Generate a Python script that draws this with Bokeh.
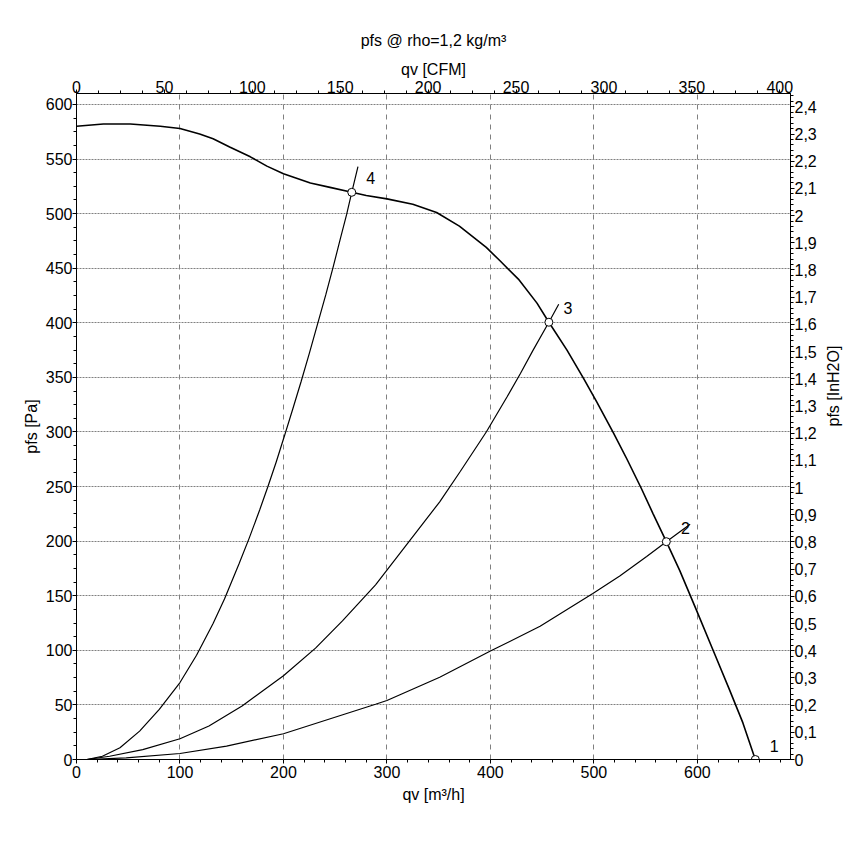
import math
from bokeh.plotting import figure
from bokeh.models import Range1d, LinearAxis, SingleIntervalTicker, CustomJSTickFormatter
from bokeh.core.properties import value
from bokeh.embed import file_html
from bokeh.resources import INLINE

FONT = "Liberation Sans"

# ---- data ----
fan_q = [0, 26, 52, 81, 100, 119, 132, 148, 168, 184, 200, 226, 245, 266, 280, 300, 325, 348,
         370, 396, 409, 427, 445, 456.5, 474, 490, 503, 519, 532, 546, 557, 570, 583, 599,
         615, 631, 644, 656]
fan_p = [580, 582, 582, 580, 578, 573, 568.5, 561, 552, 543.5, 536.5, 528, 524, 519.5, 516.5,
         513.5, 508.5, 501, 488.5, 469, 457, 440, 418, 400.5, 375, 349, 327, 299, 275,
         248, 225.5, 199.5, 173, 137, 100.5, 64, 33.5, 0]

sys4_q = [10, 25, 42, 61, 80, 100, 116, 132, 143, 157, 167, 177, 185, 193, 200, 209, 217,
          225, 233, 241, 248, 255, 261, 266, 272]
sys4_p = [0, 3, 10.7, 26, 46, 70.5, 95.5, 124.5, 147, 179, 203, 228.5, 250, 272.5, 293.5, 321,
          346, 372, 399, 426, 451, 477, 499, 519.5, 543]

sys3_q = [10, 32, 64, 100, 128, 160, 200, 231, 257, 289, 351, 371, 396, 416, 429, 441, 456.5, 466]
sys3_p = [0, 3, 9, 19, 30.7, 49, 76.7, 102, 127, 160, 236, 264, 300, 332, 353.5, 374.5, 400.5, 417]

sys2_q = [10, 48, 100, 145, 200, 289, 300, 351, 400, 448, 499, 525, 551, 570, 593]
sys2_p = [0, 1.5, 5.5, 12.3, 23.6, 50.6, 54, 75.4, 99.3, 122, 152, 168, 186, 199.5, 215.5]

op_q = [656, 570, 456.5, 266]
op_p = [0, 199.5, 400.5, 519.5]
op_labels = ["1", "2", "3", "4"]

TITLE = "pfs @ rho=1,2 kg/m³"
TOP_LABEL = "qv [CFM]"

QV_MAX = 690          # m3/h
PFS_MAX = 610         # Pa
M3H_PER_CFM = 1.69901
PA_PER_INH2O = 249.0889

p = figure(width=856, height=839, output_backend="svg", toolbar_location=None,
           x_range=Range1d(0, QV_MAX), y_range=Range1d(0, PFS_MAX),
           min_border_left=76, min_border_right=66, min_border_top=93, min_border_bottom=80)
p.extra_x_ranges = {"cfm": Range1d(0, QV_MAX / M3H_PER_CFM)}
p.extra_y_ranges = {"inh": Range1d(0, PFS_MAX / PA_PER_INH2O)}

p.background_fill_color = "white"
p.border_fill_color = "white"
p.outline_line_color = "black"
p.outline_line_width = 1

bottom = p.below[0]
left = p.left[0]

xt = SingleIntervalTicker(interval=100, num_minor_ticks=5)
yt = SingleIntervalTicker(interval=50, num_minor_ticks=4)
bottom.ticker = xt
left.ticker = yt
bottom.axis_label = "qv [m³/h]"
left.axis_label = "pfs [Pa]"

top = LinearAxis(x_range_name="cfm", ticker=SingleIntervalTicker(interval=50, num_minor_ticks=4),
                 axis_label=TITLE + "\n" + TOP_LABEL)
p.add_layout(top, "above")
right = LinearAxis(y_range_name="inh", ticker=SingleIntervalTicker(interval=0.1, num_minor_ticks=5),
                   formatter=CustomJSTickFormatter(code="var v = Math.round(tick*10)/10; return v.toString().replace('.', ',');"),
                   axis_label="pfs [InH2O]")
p.add_layout(right, "right")

for ax in [bottom, left, top, right]:
    ax.axis_line_color = "black"
    ax.major_tick_line_color = "black"
    ax.minor_tick_line_color = "black"
    ax.major_tick_out = 4
    ax.major_tick_in = 0
    ax.minor_tick_out = 3
    ax.minor_tick_in = 0
    ax.major_label_text_font = FONT
    ax.major_label_text_font_size = "16px"
    ax.major_label_text_color = "black"
    ax.major_label_standoff = 0
    ax.axis_label_text_font = FONT
    ax.axis_label_text_font_size = "16px"
    ax.axis_label_text_font_style = "normal"
    ax.axis_label_text_color = "black"
    ax.axis_label_standoff = 3
bottom.major_label_standoff = 2
bottom.axis_label_standoff = 5
top.major_label_standoff = -3
top.axis_label_standoff = 0
top.axis_label_text_line_height = 1.65
right.axis_label_orientation = math.pi / 2
right.axis_label_standoff = 14

p.xgrid.ticker = xt
p.ygrid.ticker = yt
p.xgrid.grid_line_color = "#808080"
p.xgrid.grid_line_dash = "5 5"
p.ygrid.grid_line_color = "#808080"
p.ygrid.grid_line_dash = "2 1"

p.line(fan_q, fan_p, line_color="black", line_width=1.6)
p.line(sys4_q, sys4_p, line_color="black", line_width=1.2)
p.line(sys3_q, sys3_p, line_color="black", line_width=1.2)
p.line(sys2_q, sys2_p, line_color="black", line_width=1.2)

p.scatter(op_q, op_p, marker="circle", size=8, fill_color="white", line_color="black", line_width=1)
p.text(x=op_q, y=op_p, text=op_labels, x_offset=19, y_offset=-14,
       text_font=value(FONT), text_font_size="16px", text_color="black",
       text_align="center", text_baseline="middle")

open("out.html", "w").write(file_html(p, INLINE))
